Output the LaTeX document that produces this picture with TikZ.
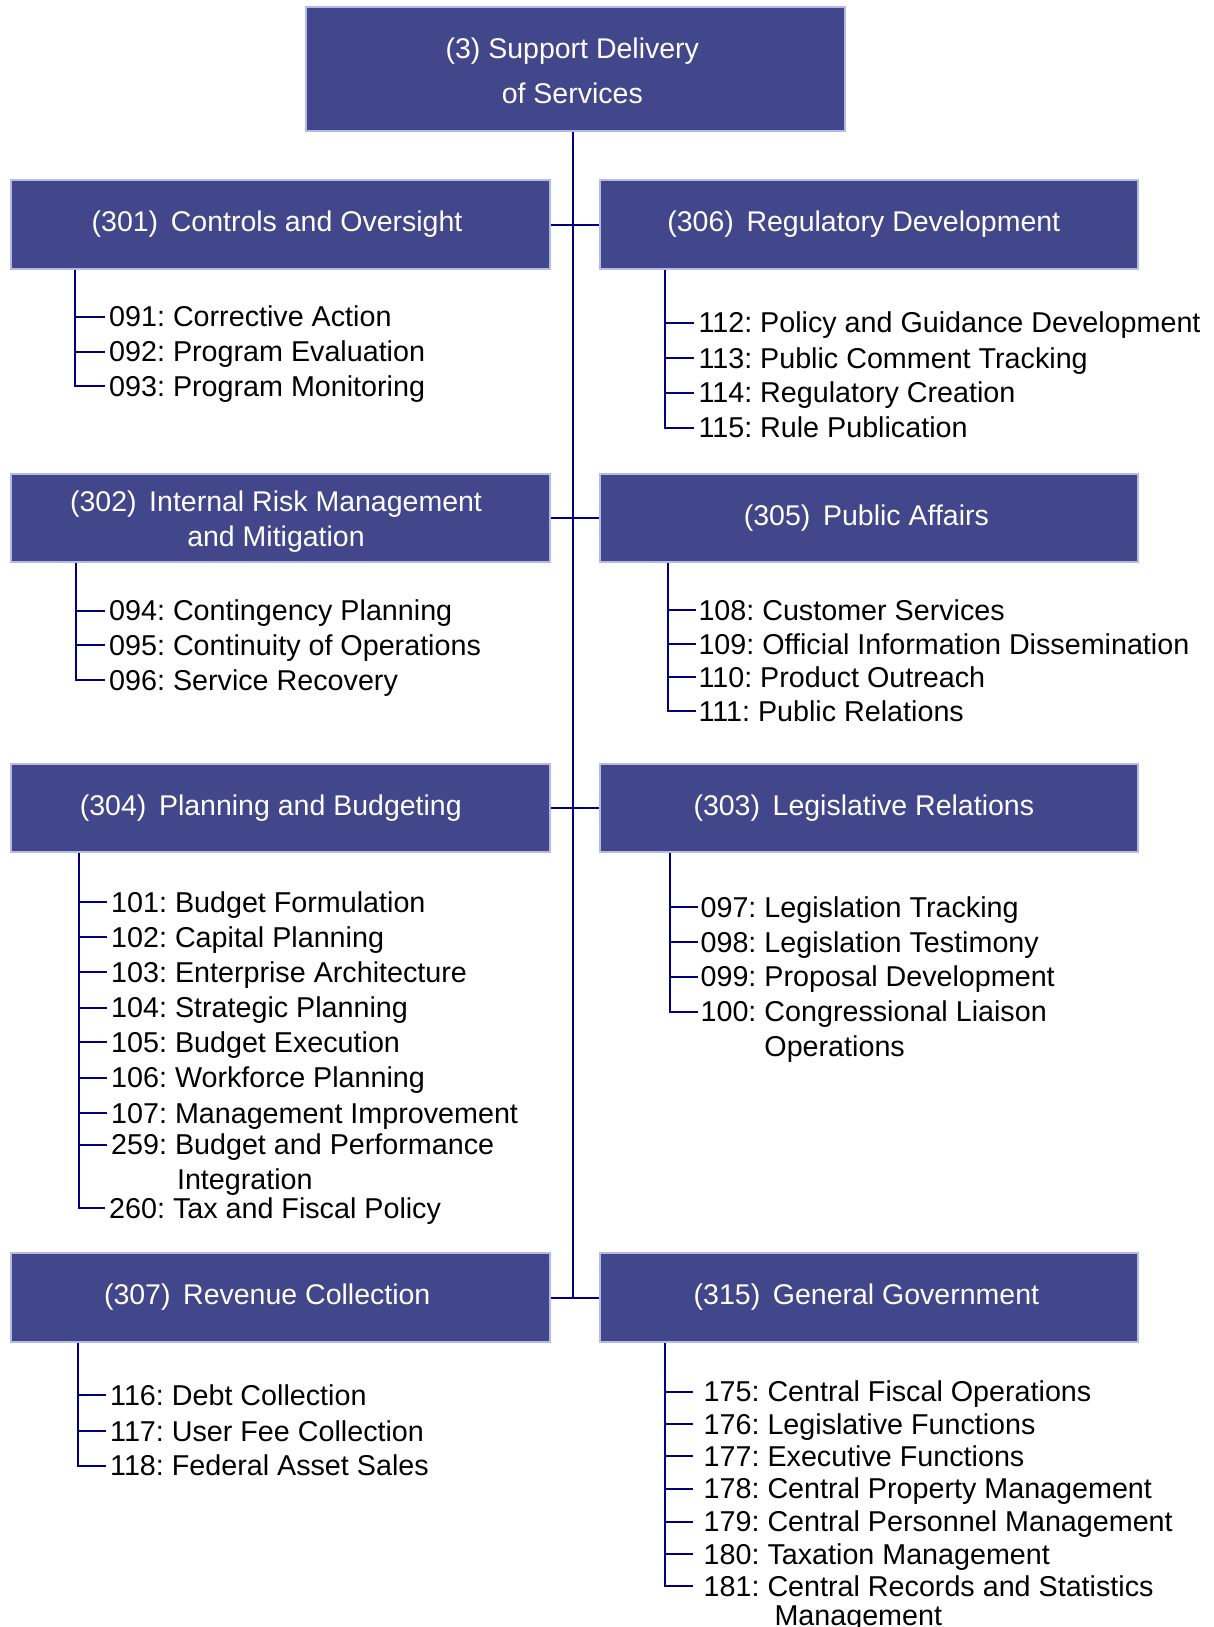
\documentclass[tikz,border=0pt]{standalone}
\usepackage{fontspec}
\setmainfont{Liberation Sans}
\definecolor{boxfill}{RGB}{66,70,138}
\definecolor{boxedge}{RGB}{178,186,234}
\definecolor{linkc}{RGB}{0,0,128}
\tikzset{
  catbox/.style={draw=boxedge, line width=2pt, fill=boxfill, minimum width=538.6pt, minimum height=88.3pt, inner sep=0pt},
  cattext/.style={text=white, font=\fontsize{28.5}{35.2}\selectfont, align=center, inner sep=0pt},
  link/.style={draw=linkc, line width=2pt},
  item/.style={anchor=west, inner xsep=4pt, inner ysep=0pt, text height=20.5pt, text depth=0pt, font=\fontsize{28.7}{34.5}\selectfont, text=black},
}
\newcommand{\cont}[3][0pt]{\smash{\begin{tabular}[t]{@{}l@{}}#2\\[#1]#3\end{tabular}}}
\frenchspacing
\begin{document}
\frenchspacing
\begin{tikzpicture}[x=1pt,y=-1pt]
\fill[white] (0,0) rectangle (1214,1627);
\useasboundingbox (0,0) rectangle (1214,1627);

% boxes
\node[catbox, minimum height=123.6pt] (top) at (575.5,69) {};
\node[catbox] (b301) at (280.7,224.6) {};
\node[catbox] (b306) at (869,224.6) {};
\node[catbox] (b302) at (280.7,518.2) {};
\node[catbox] (b305) at (869,518.2) {};
\node[catbox] (b304) at (280.7,807.8) {};
\node[catbox] (b303) at (869,807.8) {};
\node[catbox] (b307) at (280.7,1297.5) {};
\node[catbox] (b315) at (869,1297.5) {};

% titles
\node[cattext, font=\fontsize{28.5}{44.6}\selectfont] (ttop) at (572.3,71) {(3) Support Delivery\\of Services};
\node[cattext] (t301) at (277,224.6) {(301)\, Controls and Oversight};
\node[cattext] (t306) at (863.8,224.6) {(306)\, Regulatory Development};
\node[cattext] (t302) at (276,521.6) {(302)\, Internal Risk Management\\and Mitigation};
\node[cattext] (t305) at (866.4,518.2) {(305)\, Public Affairs};
\node[cattext] (t304) at (270.8,807.8) {(304)\, Planning and Budgeting};
\node[cattext] (t303) at (863.8,807.8) {(303)\, Legislative Relations};
\node[cattext] (t307) at (267.2,1297.5) {(307)\, Revenue Collection};
\node[cattext] (t315) at (866.4,1297.5) {(315)\, General Government};

% spine and row connectors
\coordinate (spine) at (572.5,1297.5);
\draw[link] (top.south -| spine) -- (spine);
\draw[link] (b301.east) -- (b306.west);
\draw[link] (b302.east) -- (b305.west);
\draw[link] (b304.east) -- (b303.west);
\draw[link] (b307.east) -- (b315.west);

% 301
\node[item] (i091) at (105,316.5) {091: Corrective Action};
\node[item] (i092) at (105,351.7) {092: Program Evaluation};
\node[item] (i093) at (105,386) {093: Program Monitoring};
\coordinate (l301) at (74.7,386);
\draw[link] (b301.south -| l301) -- (l301) -- (i093.west);
\draw[link] (i091.west -| l301) -- (i091.west);
\draw[link] (i092.west -| l301) -- (i092.west);

% 306
\node[item] (i112) at (694.3,322.7) {112: Policy and Guidance Development};
\node[item] (i113) at (694.3,358) {113: Public Comment Tracking};
\node[item] (i114) at (694.3,392.7) {114: Regulatory Creation};
\node[item] (i115) at (694.3,427.5) {115: Rule Publication};
\coordinate (l306) at (665.1,427.5);
\draw[link] (b306.south -| l306) -- (l306) -- (i115.west);
\draw[link] (i112.west -| l306) -- (i112.west);
\draw[link] (i113.west -| l306) -- (i113.west);
\draw[link] (i114.west -| l306) -- (i114.west);

% 302
\node[item] (i094) at (105,610.5) {094: Contingency Planning};
\node[item] (i095) at (105,645) {095: Continuity of Operations};
\node[item] (i096) at (105,679.8) {096: Service Recovery};
\coordinate (l302) at (75.7,679.8);
\draw[link] (b302.south -| l302) -- (l302) -- (i096.west);
\draw[link] (i094.west -| l302) -- (i094.west);
\draw[link] (i095.west -| l302) -- (i095.west);

% 305
\node[item, inner xsep=2pt] (i108) at (696.3,610) {108: Customer Services};
\node[item, inner xsep=2pt] (i109) at (696.3,644) {109: Official Information Dissemination};
\node[item, inner xsep=2pt] (i110) at (696.3,677.2) {110: Product Outreach};
\node[item, inner xsep=2pt] (i111) at (696.3,711.4) {111: Public Relations};
\coordinate (l305) at (668.2,711.4);
\draw[link] (b305.south -| l305) -- (l305) -- (i111.west);
\draw[link] (i108.west -| l305) -- (i108.west);
\draw[link] (i109.west -| l305) -- (i109.west);
\draw[link] (i110.west -| l305) -- (i110.west);

% 304
\node[item] (i101) at (107,902) {101: Budget Formulation};
\node[item] (i102) at (107,937) {102: Capital Planning};
\node[item] (i103) at (107,972.4) {103: Enterprise Architecture};
\node[item] (i104) at (107,1007.6) {104: Strategic Planning};
\node[item] (i105) at (107,1042.2) {105: Budget Execution};
\node[item] (i106) at (107,1077.6) {106: Workforce Planning};
\node[item] (i107) at (107,1112.8) {107: Management Improvement};
\node[item] (i259) at (107,1144.7) {259: \cont{Budget and Performance}{\hspace*{2pt}Integration}};
\node[item] (i260) at (105,1208) {260: Tax and Fiscal Policy};
\coordinate (l304) at (78.9,1208);
\draw[link] (b304.south -| l304) -- (l304) -- (i260.west);
\foreach \n in {i101,i102,i103,i104,i105,i106,i107,i259}
  \draw[link] (\n.west -| l304) -- (\n.west);

% 303
\node[item, inner xsep=2pt] (i097) at (698.4,906.8) {097: Legislation Tracking};
\node[item, inner xsep=2pt] (i098) at (698.4,941.9) {098: Legislation Testimony};
\node[item, inner xsep=2pt] (i099) at (698.4,976.5) {099: Proposal Development};
\node[item, inner xsep=2pt] (i100) at (698.4,1011.7) {100: \cont{Congressional Liaison}{Operations}};
\coordinate (l303) at (670.3,1011.7);
\draw[link] (b303.south -| l303) -- (l303) -- (i100.west);
\foreach \n in {i097,i098,i099}
  \draw[link] (\n.west -| l303) -- (\n.west);

% 307
\node[item] (i116) at (106,1395.3) {116: Debt Collection};
\node[item] (i117) at (106,1430.8) {117: User Fee Collection};
\node[item] (i118) at (106,1465.5) {118: Federal Asset Sales};
\coordinate (l307) at (77.8,1465.5);
\draw[link] (b307.south -| l307) -- (l307) -- (i118.west);
\draw[link] (i116.west -| l307) -- (i116.west);
\draw[link] (i117.west -| l307) -- (i117.west);

% 315
\node[item, inner xsep=10.5pt] (i175) at (693,1391.5) {175: Central Fiscal Operations};
\node[item, inner xsep=10.5pt] (i176) at (693,1424.3) {176: Legislative Functions};
\node[item, inner xsep=10.5pt] (i177) at (693,1456.4) {177: Executive Functions};
\node[item, inner xsep=10.5pt] (i178) at (693,1488.6) {178: Central Property Management};
\node[item, inner xsep=10.5pt] (i179) at (693,1521.6) {179: Central Personnel Management};
\node[item, inner xsep=10.5pt] (i180) at (693,1553.8) {180: Taxation Management};
\node[item, inner xsep=10.5pt] (i181) at (693,1586.1) {181: \cont[-5pt]{Central Records and Statistics}{\hspace*{7pt}Management}};
\coordinate (l315) at (665.1,1586.1);
\draw[link] (b315.south -| l315) -- (l315) -- (i181.west);
\foreach \n in {i175,i176,i177,i178,i179,i180}
  \draw[link] (\n.west -| l315) -- (\n.west);
\end{tikzpicture}
\end{document}
